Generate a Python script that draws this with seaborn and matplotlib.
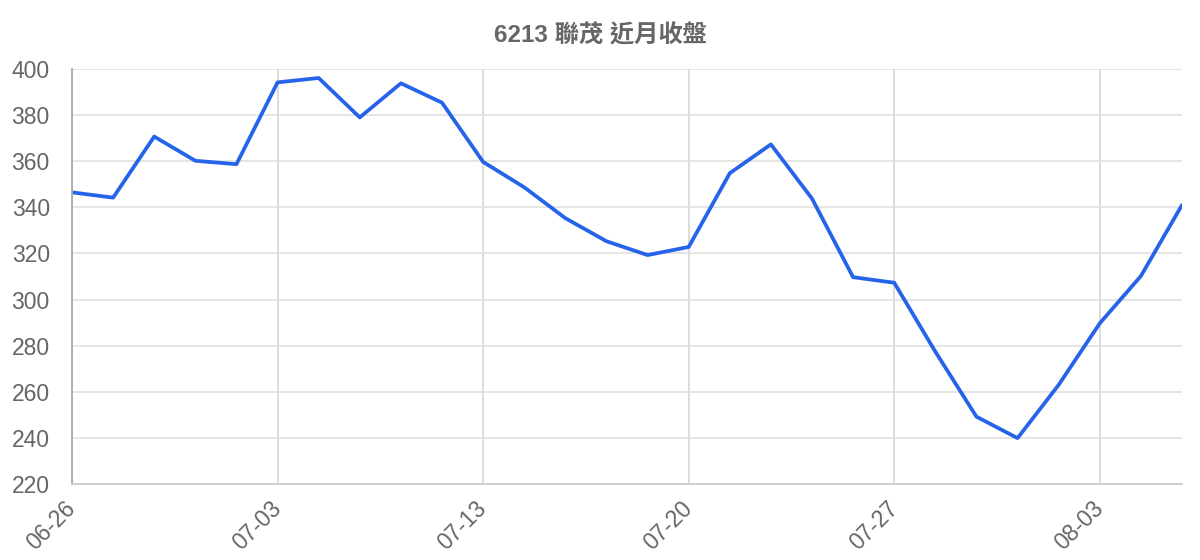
import pandas as pd
import numpy as np
import seaborn as sns
import matplotlib.pyplot as plt

# --------------------------- DATA ---------------------------
dates = [
    '06-26', '06-27', '06-28', '06-29', '06-30',
    '07-03', '07-05', '07-06', '07-07', '07-12',
    '07-13', '07-14', '07-17', '07-18', '07-19',
    '07-20', '07-21', '07-24', '07-25', '07-26',
    '07-27', '07-28', '07-31', '08-01', '08-02',
    '08-03', '08-04', '08-07',
]
close = [
    346.5, 344.2, 370.7, 360.2, 358.7,
    394.2, 396.1, 379.0, 393.8, 385.4,
    359.7, 348.7, 335.3, 325.3, 319.3,
    322.8, 354.8, 367.3, 343.8, 309.7,
    307.3, 277.4, 249.2, 239.9, 263.0,
    289.7, 310.2, 341.0,
]
title = '6213 聯茂 近月收盤'

# --------------------------- SETTINGS ---------------------------
sns.set_style("white")
plt.rcParams['font.family'] = ['Liberation Sans', 'Noto Sans CJK TC', 'DejaVu Sans']
text_grey = '#666666'
line_blue = '#2563EB'

df = pd.DataFrame({'pos': np.arange(len(dates)), 'date': dates, 'close': close})

# --------------------------- PLOT ---------------------------
fig = plt.figure(figsize=(12, 5.6), dpi=100)
ax = fig.add_axes([72 / 1200, 1 - 484 / 560, (1182 - 72) / 1200, (484 - 69) / 560])

sns.lineplot(data=df, x='pos', y='close', color=line_blue, linewidth=2.7, ax=ax)

ax.set_xlim(0, len(dates) - 1)
ax.set_ylim(220, 400)
ax.set_yticks(np.arange(220, 401, 20))
ax.set_xticks(df['pos'][::5])
ax.set_xticklabels(df['date'][::5], rotation=45, ha='right', va='center',
                   rotation_mode='anchor')

ax.grid(axis='y', color='#e0e0e0', linewidth=1.2)
ax.grid(axis='x', color='#d6d6d6', linewidth=1.2)
ax.set_axisbelow(True)

for side in ['top', 'right']:
    ax.spines[side].set_visible(False)
ax.spines['left'].set_color('#aaaaaa')
ax.spines['left'].set_linewidth(1.3)
ax.spines['bottom'].set_color('#cccccc')
ax.spines['bottom'].set_linewidth(1.3)

ax.tick_params(axis='y', length=14, width=1.2, color='#e0e0e0', pad=2,
               labelsize=16.5, labelcolor=text_grey)
ax.tick_params(axis='x', length=14, width=1.2, color='#d6d6d6', pad=1,
               labelsize=16.5, labelcolor=text_grey)

ax.set_xlabel('')
ax.set_ylabel('')

fig.text(0.5, 1 - 36 / 560, title, ha='center', va='center',
         fontsize=17.5, fontweight='bold', color=text_grey)

fig.savefig('out.png', dpi=100)
plt.close(fig)
